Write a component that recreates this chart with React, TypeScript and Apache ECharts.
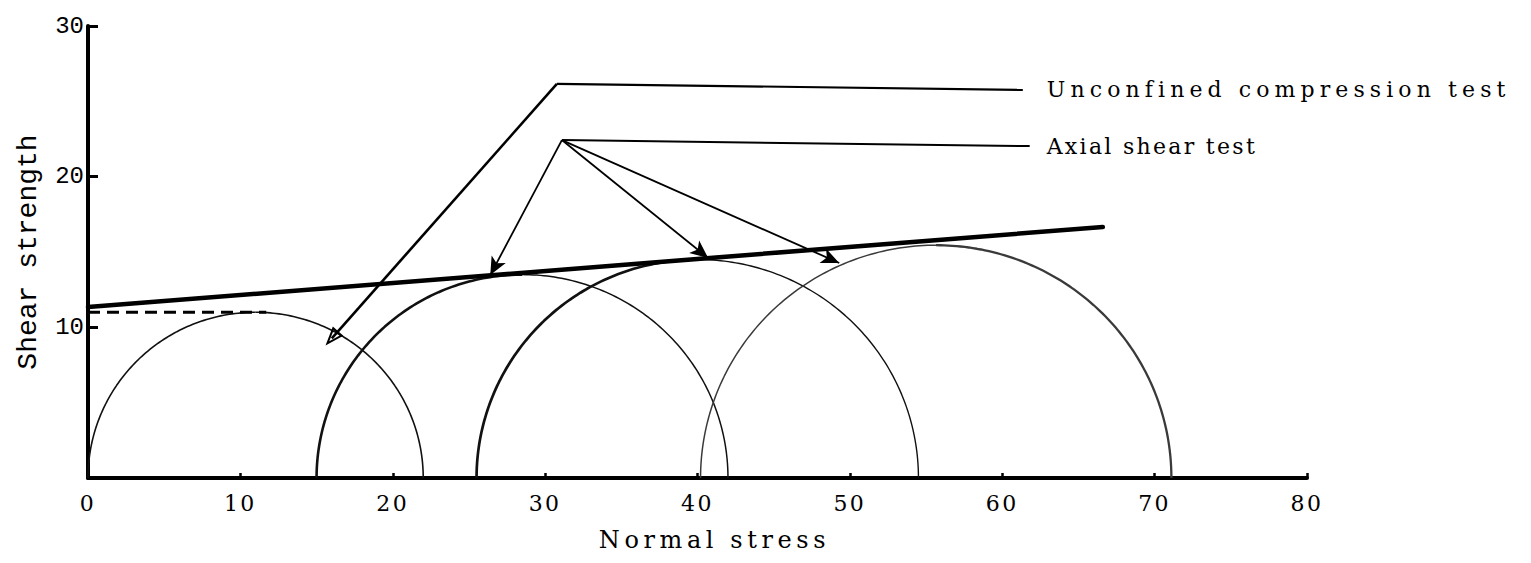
import { useEffect, useRef } from "react";
import * as echarts from "echarts";

// Axis ranges and ticks
const xTickValues = [0, 10, 20, 30, 40, 50, 60, 70, 80];
const yTickValues = [0, 10, 20, 30];

// Mohr circles: minor and major principal stress of each test
const sigma3 = [0, 15, 25.5, 40.2];
const sigma1 = [22, 42, 54.5, 71.1];

// Failure envelope (start and end point)
const envelope = [
  [0, 11.35],
  [66.6, 16.66],
];

// Horizontal dashed line to the top of the unconfined circle
const unconfinedPeak = [
  [0, 11.0],
  [11.7, 11.0],
];

// Leader lines for the two annotations
const unconfinedLeader = [
  [30.77, 26.16],
  [61.35, 25.76],
];
const unconfinedTarget = [16.0, 9.27];

const axialLeader = [
  [31.1, 22.43],
  [61.8, 22.03],
];
const axialTargets = [
  [26.4, 13.47],
  [40.7, 14.6],
  [49.3, 14.27],
];

const annotationLabels = ["Unconfined compression test", "Axial shear test"];

// Stroke styling of each circle: [left half, right half]
const circleStroke = [
  { widths: [1.6, 1.6], color: "#111" },
  { widths: [2.6, 1.5], color: "#111" },
  { widths: [2.7, 1.4], color: "#111" },
  { widths: [1.5, 2.3], color: "#3a3a3a" },
];

const SERIF = "DejaVu Serif";
const MONO = "Liberation Mono";

// Quarter arc of a Mohr circle, from fromDeg down to toDeg
function arc(lo: number, hi: number, fromDeg: number, toDeg: number): number[][] {
  const c = (lo + hi) / 2;
  const r = (hi - lo) / 2;
  const pts: number[][] = [];
  for (let deg = fromDeg; deg >= toDeg; deg -= 1) {
    const t = (deg * Math.PI) / 180;
    pts.push([c + r * Math.cos(t), r * Math.sin(t)]);
  }
  return pts;
}

// Open (hollow) arrow head pointing up
const hollowArrow = "path://M5,0L10,14L0,14Z M5,4.2L2.1,12.4L7.9,12.4Z";

export default function App() {
  const ref = useRef<HTMLDivElement>(null);

  useEffect(() => {
    if (!ref.current) return;
    const chart = echarts.init(ref.current, null, { renderer: "svg" });

    const circleSeries = sigma3.flatMap((lo, i) =>
      [
        [180, 90],
        [90, 0],
      ].map(([a, b], h) => ({
        type: "line" as const,
        data: arc(lo, sigma1[i], a, b),
        showSymbol: false,
        silent: true,
        lineStyle: { width: circleStroke[i].widths[h], color: circleStroke[i].color },
        z: 2,
      }))
    );

    const labelStyle = {
      show: true,
      fontFamily: SERIF,
      fontSize: 22,
      color: "#000",
      distance: 24,
    };

    const option: echarts.EChartsOption = {
      animation: false,
      backgroundColor: "#fff",
      grid: { left: 88, right: 224, top: 26, bottom: 85 },
      xAxis: {
        type: "value",
        min: xTickValues[0],
        max: xTickValues[xTickValues.length - 1],
        interval: 10,
        name: "Normal stress",
        nameLocation: "middle",
        nameGap: 50,
        nameTextStyle: {
          fontFamily: SERIF,
          fontSize: 24,
          color: "#000",
          padding: [0, 0, 0, 34],
        },
        axisLine: { lineStyle: { color: "#000", width: 4 } },
        axisTick: { inside: true, length: 5, lineStyle: { color: "#000", width: 2.5 } },
        axisLabel: { fontFamily: SERIF, fontSize: 22, color: "#000", margin: 14 },
        splitLine: { show: false },
      },
      yAxis: {
        type: "value",
        min: yTickValues[0],
        max: yTickValues[yTickValues.length - 1],
        interval: 10,
        name: "Shear strength",
        nameLocation: "middle",
        nameGap: 46,
        nameTextStyle: { fontFamily: MONO, fontSize: 28, color: "#000" },
        axisLine: { lineStyle: { color: "#000", width: 4 } },
        axisTick: { inside: true, length: 10, lineStyle: { color: "#000", width: 3 } },
        axisLabel: {
          fontFamily: MONO,
          fontSize: 24,
          color: "#000",
          margin: 4,
          formatter: (v: number) => (v === 0 ? "" : String(v)),
        },
        splitLine: { show: false },
      },
      series: [
        ...circleSeries,
        {
          type: "line",
          data: envelope,
          showSymbol: false,
          silent: true,
          lineStyle: { width: 4.5, color: "#000", cap: "round" },
          z: 4,
        },
        {
          type: "line",
          data: unconfinedPeak,
          showSymbol: false,
          silent: true,
          lineStyle: { width: 3.2, color: "#000", type: [12, 7] },
          z: 3,
        },
        {
          type: "line",
          data: unconfinedLeader,
          showSymbol: false,
          silent: true,
          lineStyle: { width: 2.2, color: "#000" },
          endLabel: { ...labelStyle, formatter: annotationLabels[0] },
          markLine: {
            silent: true,
            symbol: ["none", hollowArrow],
            symbolSize: [14, 19],
            label: { show: false },
            lineStyle: { color: "#000", width: 2.6, type: "solid" },
            data: [[{ coord: unconfinedLeader[0] }, { coord: unconfinedTarget }]] as any,
          },
          z: 5,
        },
        {
          type: "line",
          data: axialLeader,
          showSymbol: false,
          silent: true,
          lineStyle: { width: 2, color: "#000" },
          endLabel: { ...labelStyle, distance: 17, formatter: annotationLabels[1] },
          markLine: {
            silent: true,
            symbol: ["none", "arrow"],
            symbolSize: [12, 18],
            label: { show: false },
            lineStyle: { color: "#000", width: 1.8, type: "solid" },
            data: axialTargets.map((t) => [{ coord: axialLeader[0] }, { coord: t }]) as any,
          },
          z: 5,
        },
      ],
    };

    chart.setOption(option);

    // Typeset letter spacing for the serif captions
    const spacing: Record<string, string> = {
      "Normal stress": "4.6px",
      [annotationLabels[0]]: "5.1px",
      [annotationLabels[1]]: "2.3px",
    };
    ref.current.querySelectorAll("text").forEach((t) => {
      const s = (t.textContent || "").trim();
      const st = t.getAttribute("style") || "";
      if (st.includes("Mono")) return;
      if (spacing[s]) t.setAttribute("letter-spacing", spacing[s]);
      else if (/^\d+$/.test(s)) t.setAttribute("letter-spacing", "2.5px");
    });

    return () => chart.dispose();
  }, []);

  return (
    <div
      ref={ref}
      style={{ position: "fixed", left: 0, top: 0, width: 1531, height: 563, background: "#fff" }}
    />
  );
}
